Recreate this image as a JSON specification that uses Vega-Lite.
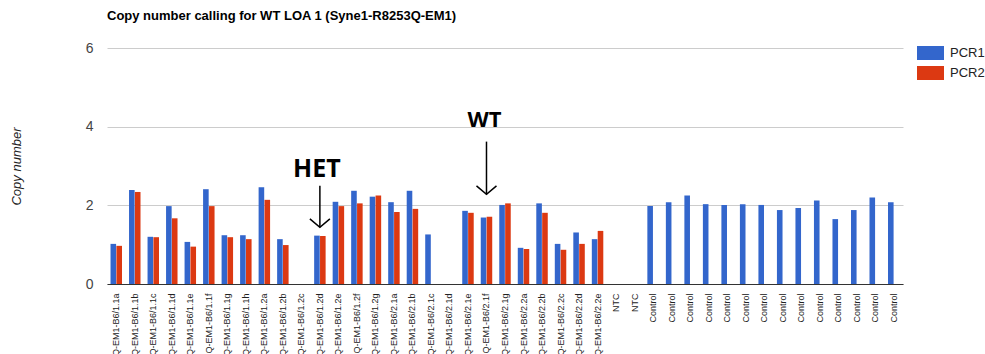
{
  "$schema": "https://vega.github.io/schema/vega-lite/v6.json",
  "autosize": {"type": "none"},
  "width": 796,
  "height": 236,
  "padding": {"left": 107, "top": 48, "right": 82, "bottom": 70},
  "background": "white",
  "config": {"font": "Liberation Sans", "view": {"stroke": null}},
  "title": {"text": "Copy number calling for WT LOA 1 (Syne1-R8253Q-EM1)", "anchor": "start", "frame": "group", "fontSize": 13, "fontWeight": "bold", "color": "#000000", "offset": 18},
  "datasets": {
    "bars": [
      {"sample": "Syne1-R8253Q-EM1-B6/1.1a", "series": "PCR1", "value": 1.02},
      {"sample": "Syne1-R8253Q-EM1-B6/1.1a", "series": "PCR2", "value": 0.97},
      {"sample": "Syne1-R8253Q-EM1-B6/1.1b", "series": "PCR1", "value": 2.39},
      {"sample": "Syne1-R8253Q-EM1-B6/1.1b", "series": "PCR2", "value": 2.34},
      {"sample": "Syne1-R8253Q-EM1-B6/1.1c", "series": "PCR1", "value": 1.2},
      {"sample": "Syne1-R8253Q-EM1-B6/1.1c", "series": "PCR2", "value": 1.19},
      {"sample": "Syne1-R8253Q-EM1-B6/1.1d", "series": "PCR1", "value": 1.98},
      {"sample": "Syne1-R8253Q-EM1-B6/1.1d", "series": "PCR2", "value": 1.67},
      {"sample": "Syne1-R8253Q-EM1-B6/1.1e", "series": "PCR1", "value": 1.07},
      {"sample": "Syne1-R8253Q-EM1-B6/1.1e", "series": "PCR2", "value": 0.95},
      {"sample": "Syne1-R8253Q-EM1-B6/1.1f", "series": "PCR1", "value": 2.41},
      {"sample": "Syne1-R8253Q-EM1-B6/1.1f", "series": "PCR2", "value": 1.98},
      {"sample": "Syne1-R8253Q-EM1-B6/1.1g", "series": "PCR1", "value": 1.24},
      {"sample": "Syne1-R8253Q-EM1-B6/1.1g", "series": "PCR2", "value": 1.19},
      {"sample": "Syne1-R8253Q-EM1-B6/1.1h", "series": "PCR1", "value": 1.24},
      {"sample": "Syne1-R8253Q-EM1-B6/1.1h", "series": "PCR2", "value": 1.14},
      {"sample": "Syne1-R8253Q-EM1-B6/1.2a", "series": "PCR1", "value": 2.46},
      {"sample": "Syne1-R8253Q-EM1-B6/1.2a", "series": "PCR2", "value": 2.14},
      {"sample": "Syne1-R8253Q-EM1-B6/1.2b", "series": "PCR1", "value": 1.14},
      {"sample": "Syne1-R8253Q-EM1-B6/1.2b", "series": "PCR2", "value": 0.99},
      {"sample": "Syne1-R8253Q-EM1-B6/1.2d", "series": "PCR1", "value": 1.23},
      {"sample": "Syne1-R8253Q-EM1-B6/1.2d", "series": "PCR2", "value": 1.22},
      {"sample": "Syne1-R8253Q-EM1-B6/1.2e", "series": "PCR1", "value": 2.09},
      {"sample": "Syne1-R8253Q-EM1-B6/1.2e", "series": "PCR2", "value": 1.98},
      {"sample": "Syne1-R8253Q-EM1-B6/1.2f", "series": "PCR1", "value": 2.37},
      {"sample": "Syne1-R8253Q-EM1-B6/1.2f", "series": "PCR2", "value": 2.05},
      {"sample": "Syne1-R8253Q-EM1-B6/1.2g", "series": "PCR1", "value": 2.22},
      {"sample": "Syne1-R8253Q-EM1-B6/1.2g", "series": "PCR2", "value": 2.25},
      {"sample": "Syne1-R8253Q-EM1-B6/2.1a", "series": "PCR1", "value": 2.08},
      {"sample": "Syne1-R8253Q-EM1-B6/2.1a", "series": "PCR2", "value": 1.83},
      {"sample": "Syne1-R8253Q-EM1-B6/2.1b", "series": "PCR1", "value": 2.37},
      {"sample": "Syne1-R8253Q-EM1-B6/2.1b", "series": "PCR2", "value": 1.91},
      {"sample": "Syne1-R8253Q-EM1-B6/2.1c", "series": "PCR1", "value": 1.26},
      {"sample": "Syne1-R8253Q-EM1-B6/2.1e", "series": "PCR1", "value": 1.86},
      {"sample": "Syne1-R8253Q-EM1-B6/2.1e", "series": "PCR2", "value": 1.81},
      {"sample": "Syne1-R8253Q-EM1-B6/2.1f", "series": "PCR1", "value": 1.69},
      {"sample": "Syne1-R8253Q-EM1-B6/2.1f", "series": "PCR2", "value": 1.71},
      {"sample": "Syne1-R8253Q-EM1-B6/2.1g", "series": "PCR1", "value": 2.01},
      {"sample": "Syne1-R8253Q-EM1-B6/2.1g", "series": "PCR2", "value": 2.05},
      {"sample": "Syne1-R8253Q-EM1-B6/2.2a", "series": "PCR1", "value": 0.92},
      {"sample": "Syne1-R8253Q-EM1-B6/2.2a", "series": "PCR2", "value": 0.89},
      {"sample": "Syne1-R8253Q-EM1-B6/2.2b", "series": "PCR1", "value": 2.05},
      {"sample": "Syne1-R8253Q-EM1-B6/2.2b", "series": "PCR2", "value": 1.81},
      {"sample": "Syne1-R8253Q-EM1-B6/2.2c", "series": "PCR1", "value": 1.02},
      {"sample": "Syne1-R8253Q-EM1-B6/2.2c", "series": "PCR2", "value": 0.87},
      {"sample": "Syne1-R8253Q-EM1-B6/2.2d", "series": "PCR1", "value": 1.31},
      {"sample": "Syne1-R8253Q-EM1-B6/2.2d", "series": "PCR2", "value": 1.02},
      {"sample": "Syne1-R8253Q-EM1-B6/2.2e", "series": "PCR1", "value": 1.14},
      {"sample": "Syne1-R8253Q-EM1-B6/2.2e", "series": "PCR2", "value": 1.35},
      {"sample": "Control#1", "series": "PCR1", "value": 1.98},
      {"sample": "Control#2", "series": "PCR1", "value": 2.08},
      {"sample": "Control#3", "series": "PCR1", "value": 2.25},
      {"sample": "Control#4", "series": "PCR1", "value": 2.03},
      {"sample": "Control#5", "series": "PCR1", "value": 2.01},
      {"sample": "Control#6", "series": "PCR1", "value": 2.03},
      {"sample": "Control#7", "series": "PCR1", "value": 2.01},
      {"sample": "Control#8", "series": "PCR1", "value": 1.88},
      {"sample": "Control#9", "series": "PCR1", "value": 1.93},
      {"sample": "Control#10", "series": "PCR1", "value": 2.12},
      {"sample": "Control#11", "series": "PCR1", "value": 1.65},
      {"sample": "Control#12", "series": "PCR1", "value": 1.88},
      {"sample": "Control#13", "series": "PCR1", "value": 2.2},
      {"sample": "Control#14", "series": "PCR1", "value": 2.08}
    ],
    "notes": [
      {"sample": "Syne1-R8253Q-EM1-B6/1.2d", "note": "HET", "textY": 2.71, "lineTop": 2.5, "tip": 1.44},
      {"sample": "Syne1-R8253Q-EM1-B6/2.1f", "note": "WT", "textY": 4.0, "lineTop": 3.62, "tip": 2.28}
    ]
  },
  "encoding": {
    "x": {
      "field": "sample", "type": "nominal",
      "scale": {
        "domain": ["Syne1-R8253Q-EM1-B6/1.1a", "Syne1-R8253Q-EM1-B6/1.1b", "Syne1-R8253Q-EM1-B6/1.1c", "Syne1-R8253Q-EM1-B6/1.1d", "Syne1-R8253Q-EM1-B6/1.1e", "Syne1-R8253Q-EM1-B6/1.1f", "Syne1-R8253Q-EM1-B6/1.1g", "Syne1-R8253Q-EM1-B6/1.1h", "Syne1-R8253Q-EM1-B6/1.2a", "Syne1-R8253Q-EM1-B6/1.2b", "Syne1-R8253Q-EM1-B6/1.2c", "Syne1-R8253Q-EM1-B6/1.2d", "Syne1-R8253Q-EM1-B6/1.2e", "Syne1-R8253Q-EM1-B6/1.2f", "Syne1-R8253Q-EM1-B6/1.2g", "Syne1-R8253Q-EM1-B6/2.1a", "Syne1-R8253Q-EM1-B6/2.1b", "Syne1-R8253Q-EM1-B6/2.1c", "Syne1-R8253Q-EM1-B6/2.1d", "Syne1-R8253Q-EM1-B6/2.1e", "Syne1-R8253Q-EM1-B6/2.1f", "Syne1-R8253Q-EM1-B6/2.1g", "Syne1-R8253Q-EM1-B6/2.2a", "Syne1-R8253Q-EM1-B6/2.2b", "Syne1-R8253Q-EM1-B6/2.2c", "Syne1-R8253Q-EM1-B6/2.2d", "Syne1-R8253Q-EM1-B6/2.2e", "NTC#1", "NTC#2", "Control#1", "Control#2", "Control#3", "Control#4", "Control#5", "Control#6", "Control#7", "Control#8", "Control#9", "Control#10", "Control#11", "Control#12", "Control#13", "Control#14"],
        "paddingInner": 0.38, "paddingOuter": 0.19
      },
      "axis": {
        "title": null, "labelAngle": -90, "labelFontSize": 9, "labelColor": "#222222",
        "labelPadding": 9, "ticks": false, "labelOverlap": false, "labelLimit": 400,
        "labelExpr": "split(datum.label, '#')[0]",
        "domainColor": "#333333", "grid": false
      }
    }
  },
  "layer": [
    {
      "data": {"name": "bars"},
      "mark": {"type": "bar"},
      "encoding": {
        "y": {
          "field": "value", "type": "quantitative",
          "scale": {"domain": [0, 6]},
          "axis": {
            "values": [0, 2, 4, 6], "domain": false, "ticks": false,
            "labelFontSize": 14, "labelColor": "#444444", "labelPadding": 14,
            "gridColor": "#cccccc",
            "title": "Copy number", "titleFontStyle": "italic", "titleFontWeight": "normal",
            "titleFontSize": 13, "titleColor": "#222222", "titleX": -91, "titleY": 118,
            "titleAngle": -90, "titleBaseline": "middle", "titleAlign": "center"
          }
        },
        "xOffset": {"field": "series", "type": "nominal", "scale": {"paddingInner": 0.05}},
        "color": {
          "field": "series", "type": "nominal",
          "scale": {"domain": ["PCR1", "PCR2"], "range": ["#3366cc", "#dc3912"]},
          "legend": {
            "title": null, "orient": "none", "legendX": 813.5, "legendY": -5,
            "padding": 0, "symbolType": "M-1.35,-0.7H1.35V0.7H-1.35Z", "symbolSize": 400,
            "symbolStrokeWidth": 0, "labelFontSize": 13, "labelColor": "#222222",
            "labelOffset": 9.5, "rowPadding": 3
          }
        }
      }
    },
    {
      "data": {"name": "notes"},
      "mark": {"type": "rule", "color": "#000000", "strokeWidth": 1.5},
      "encoding": {
        "y": {"field": "lineTop", "type": "quantitative"},
        "y2": {"field": "tip"}
      }
    },
    {
      "data": {"name": "notes"},
      "mark": {"type": "point", "shape": "M-1,-0.85L0,0L1,-0.85", "filled": false, "stroke": "#000000", "strokeWidth": 1.5, "size": 400, "opacity": 1},
      "encoding": {
        "y": {"field": "tip", "type": "quantitative"}
      }
    },
    {
      "data": {"name": "notes"},
      "transform": [{"filter": "datum.note == 'HET'"}],
      "mark": {"type": "text", "font": "Open Sans", "fontWeight": "bold", "fontSize": 25, "baseline": "alphabetic", "align": "center", "color": "#000000", "dx": -3},
      "encoding": {
        "y": {"field": "textY", "type": "quantitative"},
        "text": {"field": "note"}
      }
    },
    {
      "data": {"name": "notes"},
      "transform": [{"filter": "datum.note == 'WT'"}],
      "mark": {"type": "text", "font": "Open Sans", "fontWeight": "bold", "fontSize": 22, "baseline": "alphabetic", "align": "center", "color": "#000000", "dx": -2},
      "encoding": {
        "y": {"field": "textY", "type": "quantitative"},
        "text": {"field": "note"}
      }
    }
  ]
}
